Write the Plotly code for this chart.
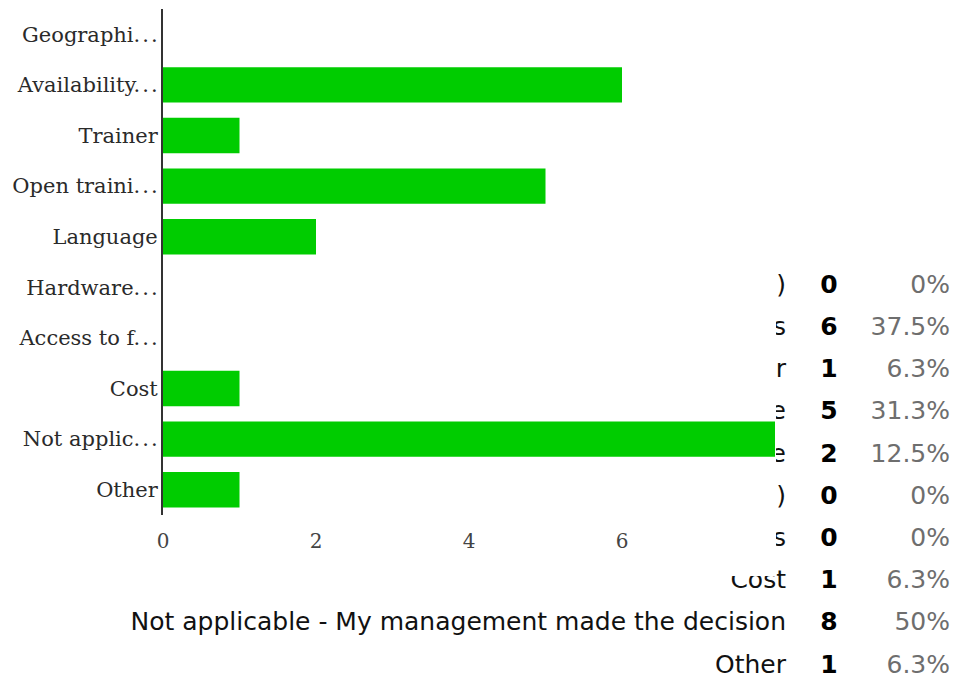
import plotly.graph_objects as go

# ---- data ----
ELL = ".\u200a.\u200a."
axis_labels = ["Geographi" + ELL, "Availability" + ELL, "Trainer", "Open traini" + ELL, "Language",
               "Hardware" + ELL, "Access to f" + ELL, "Cost", "Not applic" + ELL, "Other"]
full_labels = ["Geographic location (travel)", "Availability of suitable dates", "Trainer",
               "Open training course", "Language", "Hardware (PC)", "Access to facilities",
               "Cost", "Not applicable - My management made the decision", "Other"]
counts = [0, 6, 1, 5, 2, 0, 0, 1, 8, 1]
percents = ["0%", "37.5%", "6.3%", "31.3%", "12.5%", "0%", "0%", "6.3%", "50%", "6.3%"]
x_ticks = [0, 2, 4, 6]

W, H = 955, 679
# layout geometry (pixels)
PLOT_L, PLOT_R, PLOT_T, PLOT_B = 163, 775, 9, 515
COVER_X, COVER_Y = 776, 576
ROW0, ROWSTEP = 286.5, 42.2
COL_LABEL, COL_COUNT, COL_PCT = 786, 829, 950

def fy(py):  # pixel (top-down) -> paper fraction
    return 1 - py / H

def row_of(py):
    return (py - ROW0) / ROWSTEP

rows = list(range(len(counts)))

fig = go.Figure()

fig.add_trace(go.Bar(
    x=counts, y=axis_labels, orientation="h",
    marker=dict(color="#00cc00", line=dict(width=0)),
    xaxis="x", yaxis="y", hoverinfo="skip",
))

# table text in two clipped regions (visible part outside the chart area)
for xa, ya in (("x2", "y2"), ("x3", "y3")):
    fig.add_trace(go.Scatter(
        x=[COL_LABEL] * len(rows), y=rows, text=full_labels, mode="text",
        textposition="middle left", cliponaxis=True,
        textfont=dict(family="DejaVu Sans", size=25, color="#111111"),
        xaxis=xa, yaxis=ya, hoverinfo="skip",
    ))
    fig.add_trace(go.Scatter(
        x=[COL_COUNT] * len(rows), y=rows, text=[str(c) for c in counts], mode="text",
        textposition="middle center", cliponaxis=True,
        textfont=dict(family="DejaVu Sans", size=25, color="#000000", weight="bold"),
        xaxis=xa, yaxis=ya, hoverinfo="skip",
    ))
    fig.add_trace(go.Scatter(
        x=[COL_PCT] * len(rows), y=rows, text=percents, mode="text",
        textposition="middle left", cliponaxis=True,
        textfont=dict(family="DejaVu Sans", size=25, color="#6e6e6e"),
        xaxis=xa, yaxis=ya, hoverinfo="skip",
    ))

hidden = dict(visible=False, showgrid=False, zeroline=False, fixedrange=True, automargin=False)

fig.update_layout(
    width=W, height=H,
    margin=dict(l=0, r=0, t=0, b=0, pad=0),
    paper_bgcolor="white", plot_bgcolor="white",
    showlegend=False, hovermode=False,
    bargap=0.3,
    xaxis=dict(
        domain=[PLOT_L / W, PLOT_R / W], range=[0, 8], anchor="y",
        tickvals=x_ticks, ticktext=[str(t) for t in x_ticks],
        showgrid=False, zeroline=False, showline=False, ticks="",
        tickfont=dict(family="DejaVu Serif", size=20, color="#444444"),
        ticklabelstandoff=12, automargin=False,
    ),
    yaxis=dict(
        domain=[fy(PLOT_B), fy(PLOT_T)], anchor="x",
        autorange="reversed", showgrid=False, zeroline=False,
        showline=True, linecolor="#333333", linewidth=2, ticks="",
        tickfont=dict(family="DejaVu Serif", size=21, color="#2a2a2a"),
        ticklabelstandoff=-1, automargin=False,
    ),
    xaxis2=dict(domain=[COVER_X / W, 1], range=[COVER_X, W], anchor="y2", **hidden),
    yaxis2=dict(domain=[fy(COVER_Y), 1], range=[row_of(COVER_Y), row_of(0)], anchor="x2", **hidden),
    xaxis3=dict(domain=[0, 1], range=[0, W], anchor="y3", **hidden),
    yaxis3=dict(domain=[0, fy(COVER_Y)], range=[row_of(H), row_of(COVER_Y)], anchor="x3", **hidden),
)

fig.write_html("out.html", config={"displayModeBar": False})
